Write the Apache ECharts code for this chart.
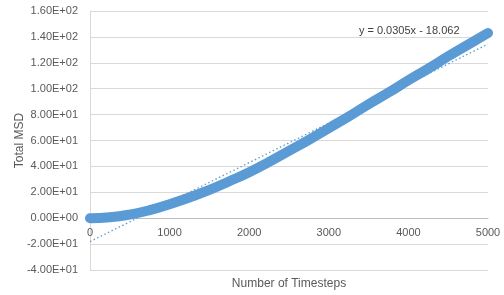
<!DOCTYPE html>
<html>
<head>
<meta charset="utf-8">
<script src="https://cdn.jsdelivr.net/npm/echarts@6/dist/echarts.min.js"></script>
<style>html,body{margin:0;padding:0;background:#fff}#c{width:504px;height:295px}</style>
</head>
<body>
<div id="c"></div>
<script>
var timesteps = [0,250,500,750,1000,1250,1500,1750,2000,2250,2500,2750,3000,3250,3500,3750,4000,4250,4500,4750,5000];
var msd = [0,0.7,2.8,6.2,10.8,16,21.8,28.5,35.5,43.5,52,60.5,69.5,78.5,88,97,106.5,115.5,125,134,143];
var trendX = [0,5000];
var trendY = [-18.062,134.438];
var trendLabel = 'y = 0.0305x - 18.062';
var xTitle = 'Number of Timesteps';
var yTitle = 'Total MSD';

function sci(v){
  if (v === 0) return '0.00E+00';
  var s = Number(v).toExponential(2);
  var p = s.split('e');
  var e = parseInt(p[1],10);
  var es = (e<0?'-':'+') + (Math.abs(e)<10?'0':'') + Math.abs(e);
  return p[0] + 'E' + es;
}

var chart = echarts.init(document.getElementById('c'));
var font = 'Liberation Sans, Arial, sans-serif';
chart.setOption({
  animation:false,
  grid:{left:90,right:16,top:11,bottom:25,containLabel:false,outerBoundsMode:'none'},
  xAxis:{type:'value',min:0,max:5000,interval:1000,offset:-52,
    name:xTitle,nameLocation:'middle',nameGap:60,nameMoveOverlap:false,
    nameTextStyle:{color:'#595959',fontSize:12,fontFamily:font},
    axisLine:{show:true,onZero:false,lineStyle:{color:'#BFBFBF'}},
    axisTick:{show:false},
    axisLabel:{color:'#595959',fontSize:11,fontFamily:font,margin:9,formatter:function(v){return String(v);}},
    splitLine:{show:false}},
  yAxis:{type:'value',min:-40,max:160,interval:20,
    name:yTitle,nameLocation:'middle',nameGap:64,nameRotate:90,nameMoveOverlap:false,
    nameTextStyle:{color:'#595959',fontSize:12,fontFamily:font},
    axisLine:{show:true,onZero:false,lineStyle:{color:'#D9D9D9'}},
    axisTick:{show:false},
    axisLabel:{color:'#595959',fontSize:11,fontFamily:font,margin:12,formatter:sci},
    splitLine:{show:true,lineStyle:{color:'#D9D9D9'}}},
  series:[
    {type:'line',data:timesteps.map(function(x,i){return [x,msd[i]];}),
     smooth:true,showSymbol:false,
     lineStyle:{color:'#5B9BD5',width:10,cap:'round'},z:2},
    {type:'line',data:trendX.map(function(x,i){return [x,trendY[i]];}),
     showSymbol:false,
     lineStyle:{color:'#5B9BD5',width:1.3,type:[1.5,2.5]},z:3,
     markPoint:{symbol:'rect',symbolSize:1,itemStyle:{color:'transparent'},
       data:[{coord:[4010,144.5],value:trendLabel,
         label:{show:true,formatter:trendLabel,color:'#404040',fontSize:11,fontFamily:font,position:'inside'}}]}}
  ]
});
</script>
</body>
</html>
